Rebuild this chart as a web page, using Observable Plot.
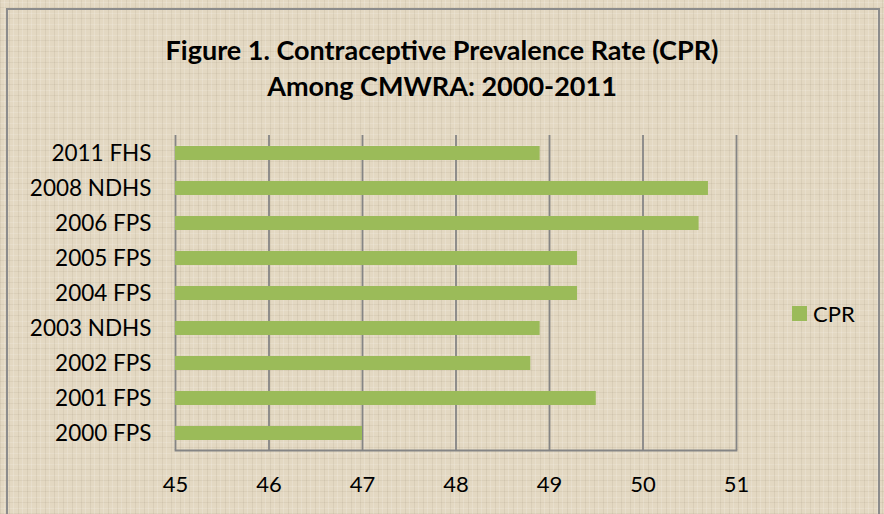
<!DOCTYPE html>
<html>
<head>
<meta charset="utf-8">
<script src="https://cdn.jsdelivr.net/npm/d3@7"></script>
<script src="https://cdn.jsdelivr.net/npm/@observablehq/plot@0.6"></script>
<style>
  html, body { margin: 0; padding: 0; background: #fff; }
  #chart {
    position: relative; width: 884px; height: 514px; overflow: hidden;
    background-color: #e3d8c2;
    background-image:
      repeating-linear-gradient(90deg, rgba(110,95,70,0.09) 0 1px, transparent 1px 4px, rgba(255,255,255,0.16) 4px 5px, transparent 5px 9px),
      repeating-linear-gradient(0deg, rgba(110,95,70,0.08) 0 1px, transparent 1px 5px, rgba(255,255,255,0.14) 5px 6px, transparent 6px 11px);
    font-family: Lato, "Open Sans", sans-serif;
  }
  #frame { position: absolute; left: 6px; top: 8px; width: 874px; height: 520px; border: 2px solid #8c8c8c; box-sizing: border-box; }
  #title { position: absolute; left: 0; top: 32px; width: 884px; text-align: center; font-weight: bold; font-size: 27px; line-height: 36px; color: #000; }
  #plot { position: absolute; left: 0; top: 120px; }
  #legend { position: absolute; left: 792px; top: 300px; font-size: 22px; color: #000; display: flex; align-items: center; }
  #legend span.sw { display: inline-block; width: 15px; height: 15px; background: #9bbb59; margin-right: 6px; }
</style>
</head>
<body>
<div id="chart">
  <div id="frame"></div>
  <div id="title">Figure 1. Contraceptive Prevalence Rate (CPR)<br>Among CMWRA: 2000-2011</div>
  <div id="plot"></div>
  <div id="legend"><span class="sw"></span>CPR</div>
</div>
<script>
const surveys = ["2011 FHS", "2008 NDHS", "2006 FPS", "2005 FPS", "2004 FPS", "2003 NDHS", "2002 FPS", "2001 FPS", "2000 FPS"];
const cpr = [48.9, 50.7, 50.6, 49.3, 49.3, 48.9, 48.8, 49.5, 47.0];
const xTicks = [45, 46, 47, 48, 49, 50, 51];

const data = surveys.map((s, i) => ({survey: s, value: cpr[i]}));

const chart = Plot.plot({
  width: 884,
  height: 394,
  marginLeft: 175,
  marginRight: 148,
  marginTop: 15,
  marginBottom: 64,
  style: {background: "transparent", fontFamily: "Lato, 'Open Sans', sans-serif", color: "#000"},
  x: {domain: [45, 51], ticks: xTicks, tickSize: 0, label: null},
  y: {domain: surveys, paddingInner: 0.61, paddingOuter: 0.3, tickSize: 0, label: null},
  marks: [
    Plot.ruleX(xTicks, {stroke: "#858585", strokeWidth: 1.8}),
    Plot.frame({anchor: "bottom", stroke: "#858585", strokeWidth: 1.8}),
    Plot.barX(data, {x1: 45, x2: "value", y: "survey", fill: "#9bbb59"}),
    Plot.axisX({ticks: xTicks, tickFormat: "d", tickSize: 0, tickPadding: 26, fontSize: 22, label: null}),
    Plot.axisY({tickSize: 0, tickPadding: 24, fontSize: 22.5, label: null})
  ]
});
chart.querySelectorAll("text").forEach(t => t.setAttribute("fill", "#000"));
document.getElementById("plot").appendChild(chart);
</script>
</body>
</html>
